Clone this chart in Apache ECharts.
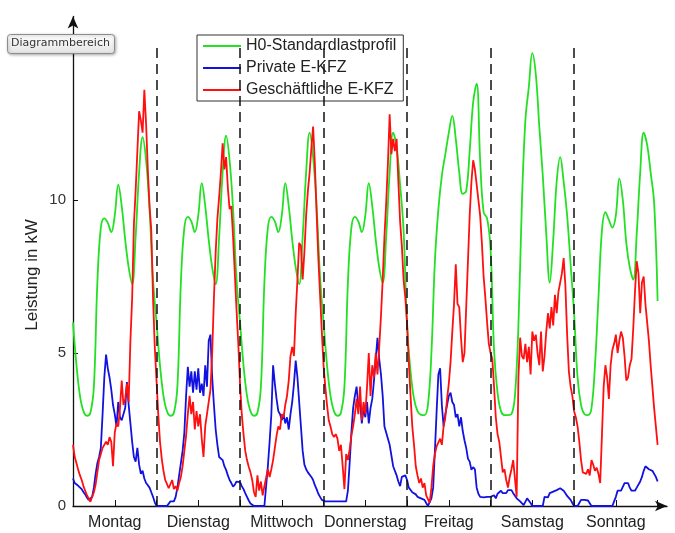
<!DOCTYPE html>
<html lang="de">
<head>
<meta charset="utf-8">
<title>Lastprofile E-KFZ</title>
<script src="https://cdn.jsdelivr.net/npm/echarts@6.0.0/dist/echarts.min.js"></script>
<style>
	html, body { margin: 0; padding: 0; background: #fff; }
	#chart { width: 675px; height: 533px; }
</style>
</head>
<body>
<div id="chart"></div>
<script>
// Wochentage, Label jeweils in der Tagesmitte (12 h, 36 h, ...)
const tage = ['Montag', 'Dienstag', 'Mittwoch', 'Donnerstag', 'Freitag', 'Samstag', 'Sonntag'];
const yTicks = [0, 5, 10];

// H0-Standardlastprofil, stündlich (kW), eine Zeile je Tag
const h0Profil = [
	[6.0, 4.6, 3.6, 3.1, 2.95, 3.05, 3.9, 7.3, 9.1, 9.4, 9.25, 8.95, 9.5, 10.5, 9.8, 8.7, 7.8, 7.25, 8.8, 10.9, 12.05, 11.3, 9.7, 7.4],
	[6.0, 4.6, 3.6, 3.1, 2.95, 3.05, 3.9, 7.3, 9.1, 9.45, 9.3, 8.95, 9.5, 10.55, 9.8, 8.7, 7.8, 7.25, 8.8, 10.9, 12.1, 11.3, 9.7, 7.4],
	[6.0, 4.6, 3.6, 3.1, 2.95, 3.05, 3.9, 7.3, 9.1, 9.45, 9.3, 8.95, 9.5, 10.55, 9.8, 8.7, 7.8, 7.25, 8.8, 10.9, 12.2, 11.4, 9.8, 7.5],
	[6.0, 4.6, 3.6, 3.1, 2.95, 3.05, 3.9, 7.3, 9.1, 9.45, 9.3, 8.95, 9.5, 10.55, 9.8, 8.7, 7.8, 7.3, 8.8, 10.9, 12.2, 11.7, 10.5, 9.0],
	[5.9, 4.4, 3.5, 3.1, 2.98, 2.97, 3.3, 5.0, 8.0, 9.7, 10.8, 11.5, 12.2, 12.75, 12.0, 10.9, 10.2, 10.3, 11.6, 13.2, 13.8, 11.3, 9.6, 9.4],
	[8.4, 5.1, 3.7, 3.1, 2.97, 2.97, 3.0, 3.6, 5.9, 9.9, 12.6, 13.7, 14.8, 14.1, 12.4, 10.8, 8.9, 7.3, 8.7, 10.6, 11.4, 10.6, 9.5, 7.9],
	[6.3, 4.2, 3.3, 3.0, 2.97, 3.2, 4.6, 6.8, 9.0, 9.6, 9.35, 9.1, 9.5, 10.7, 10.0, 8.6, 7.8, 7.4, 8.9, 10.9, 12.2, 11.8, 10.9, 9.9, 6.7],
];

// Private E-KFZ, halbstündlich (kW)
const privatKfz = [
	[0.9, 0.75, 0.69, 0.66, 0.62, 0.55, 0.46, 0.38, 0.28, 0.2, 0.15, 0.3, 0.6, 1.05, 1.4, 1.6, 1.9, 3.0, 4.2, 4.95, 4.5, 4.2, 3.8, 3.3, 3.0, 2.6, 3.4, 2.9, 2.8, 2.85, 3.2, 4.05, 3.3, 2.7, 2.1, 1.6, 1.45, 1.9, 1.35, 1.05, 1.15, 0.9, 0.75, 0.68, 0.6, 0.45, 0.3, 0.12],
	[0, 0, 0, 0, 0, 0, 0, 0, 0.15, 0.15, 0.15, 0.3, 0.6, 1.0, 1.4, 1.8, 2.4, 3.6, 4.55, 3.9, 4.4, 3.7, 4.4, 3.8, 4.5, 3.7, 4.0, 3.6, 4.6, 3.9, 5.4, 5.6, 4.2, 3.3, 2.5, 2.0, 1.6, 1.55, 1.5, 1.3, 1.18, 1.0, 0.85, 0.75, 0.63, 0.7, 0.8, 0.78],
	[0.78, 0.65, 0.55, 0.42, 0.3, 0.18, 0.08, 0.04, 0, 0, 0, 0, 0, 0, 0, 0, 1.3, 2.1, 3.0, 4.6, 4.0, 3.5, 3.1, 3.0, 2.8, 3.0, 2.7, 2.9, 2.5, 3.0, 3.4, 4.0, 4.75, 4.2, 3.4, 2.6, 1.8, 1.35, 1.2, 1.1, 1.05, 0.95, 0.85, 0.68, 0.55, 0.4, 0.3, 0.2],
	[0.15, 0.15, 0.15, 0.15, 0.15, 0.15, 0.15, 0.15, 0.15, 0.15, 0.15, 0.15, 0.15, 0.15, 0.5, 1.4, 2.4, 3.2, 3.6, 3.9, 3.25, 3.4, 2.7, 3.2, 2.9, 3.4, 2.7, 3.2, 3.5, 4.1, 4.8, 5.5, 4.8, 4.3, 3.6, 2.6, 2.4, 2.2, 2.0, 1.65, 1.3, 1.25, 1.0, 0.8, 0.65, 0.95, 0.95, 1.0],
	[0.85, 0.6, 0.55, 0.45, 0.5, 0.38, 0.3, 0.28, 0.25, 0.22, 0.2, 0.1, 0, 0, 0.25, 0.6, 1.8, 3.1, 4.3, 4.5, 3.3, 2.6, 3.0, 3.3, 3.6, 3.7, 3.4, 3.3, 2.9, 3.0, 2.6, 2.9, 2.45, 2.15, 1.9, 1.55, 1.45, 1.18, 1.27, 1.2, 0.6, 0.4, 0.3, 0.25, 0.28, 0.25, 0.3, 0.35],
	[0.3, 0.35, 0.35, 0.25, 0.4, 0.42, 0.5, 0.42, 0.47, 0.42, 0.52, 0.54, 0.52, 0.42, 0.36, 0.25, 0.2, 0.15, 0.2, 0.03, 0, 0.25, 0.3, 0.1, 0, 0, 0, 0, 0, 0, 0, 0.3, 0.36, 0.28, 0.42, 0.36, 0.47, 0.52, 0.52, 0.57, 0.58, 0.58, 0.5, 0.42, 0.33, 0.28, 0.2, 0.1],
	[0, 0, 0, 0.1, 0.2, 0.2, 0.2, 0.2, 0.18, 0.12, 0, 0, 0, 0, 0, 0, 0, 0, 0, 0, 0, 0, 0, 0.15, 0.3, 0.5, 0.55, 0.5, 0.55, 0.75, 0.7, 0.75, 0.6, 0.5, 0.45, 0.5, 0.6, 0.65, 0.8, 0.95, 1.15, 1.3, 1.32, 1.2, 1.2, 1.15, 1.1, 0.95, 0.8],
];

// Geschäftliche E-KFZ, halbstündlich (kW)
const geschaeftKfz = [
	[2.0, 1.6, 1.4, 1.18, 1.0, 0.85, 0.65, 0.5, 0.35, 0.25, 0.14, 0.3, 0.45, 0.7, 1.1, 1.5, 1.7, 1.9, 1.85, 2.1, 2.0, 2.25, 2.1, 1.3, 2.4, 2.7, 2.6, 3.2, 4.1, 3.3, 3.5, 4.0, 3.4, 5.4, 6.8, 9.2, 10.3, 11.6, 12.9, 12.6, 12.2, 13.6, 12.5, 11.0, 9.8, 9.0, 6.8, 5.2],
	[4.1, 3.0, 2.1, 1.55, 1.15, 0.85, 0.72, 0.58, 0.6, 0.85, 0.55, 0.65, 0.5, 0.75, 0.95, 1.3, 1.8, 2.3, 3.0, 3.6, 3.0, 3.4, 2.5, 3.1, 2.6, 3.0, 2.2, 1.6, 2.6, 3.0, 3.4, 3.8, 5.0, 6.8, 8.3, 9.4, 10.1, 10.9, 11.85, 11.0, 11.4, 10.4, 9.7, 9.8, 8.8, 7.6, 6.4, 5.3],
	[4.0, 3.0, 2.35, 1.8, 1.5, 1.28, 1.1, 0.85, 0.45, 0.3, 1.0, 0.5, 0.8, 0.35, 0.65, 0.6, 1.2, 0.95, 1.2, 1.5, 1.9, 2.3, 2.6, 2.5, 3.0, 2.9, 3.3, 3.6, 4.1, 4.9, 5.2, 4.9, 6.3, 7.4, 8.6, 8.5, 7.4, 8.3, 9.5, 10.3, 10.9, 11.7, 12.4, 11.2, 9.6, 8.1, 6.9, 5.7],
	[4.6, 3.9, 3.3, 2.8, 2.6, 2.35, 2.25, 2.35, 2.2, 1.8, 2.0, 1.3, 0.55, 1.7, 1.5, 1.85, 2.3, 2.6, 3.0, 3.5, 3.0, 3.9, 2.8, 3.4, 3.0, 3.9, 5.0, 3.6, 4.6, 4.2, 5.0, 4.3, 5.2, 6.2, 7.4, 8.8, 9.9, 11.2, 12.8, 11.5, 12.0, 11.6, 12.0, 10.6, 9.3, 8.5, 7.4, 6.8],
	[6.0, 4.7, 3.6, 2.6, 2.0, 1.3, 1.0, 0.75, 0.9, 0.6, 0.75, 0.35, 0.4, 0.1, 0.6, 1.3, 1.7, 1.95, 1.9, 2.2, 2.0, 2.6, 2.9, 3.5, 4.0, 4.7, 5.7, 6.6, 7.9, 6.6, 6.5, 5.5, 4.7, 5.0, 6.5, 8.0, 9.5, 10.6, 11.3, 11.0, 10.5, 10.0, 9.5, 8.6, 7.5, 6.8, 6.0, 5.3],
	[5.0, 4.8, 3.9, 2.9, 2.35, 2.1, 1.6, 1.1, 1.2, 0.85, 0.6, 0.95, 1.2, 1.5, 0.9, 0.3, 4.2, 5.5, 4.9, 4.8, 5.3, 4.7, 5.2, 4.3, 5.7, 5.4, 5.6, 5.0, 4.6, 5.7, 4.4, 4.9, 5.7, 6.3, 5.8, 6.5, 5.9, 6.9, 6.3, 7.0, 7.0, 7.6, 8.1, 7.2, 5.6, 4.4, 3.9, 3.6],
	[3.1, 2.9, 2.6, 2.1, 1.5, 1.1, 1.1, 1.05, 1.2, 1.0, 1.5, 1.35, 1.15, 1.25, 1.05, 0.75, 2.3, 3.9, 4.6, 4.2, 3.5, 4.6, 5.1, 5.3, 5.6, 5.0, 5.4, 5.7, 5.5, 4.9, 4.1, 4.2, 4.6, 4.8, 5.8, 7.0, 8.0, 7.6, 6.3, 7.3, 7.5, 6.6, 6.0, 5.4, 4.6, 3.9, 3.2, 2.6, 2.0],
];

const FONT = '"Liberation Sans", Arial, sans-serif';

// Tageszeilen -> [Stunde, kW]
function toPoints(rows, step) {
	const pts = [];
	rows.forEach((row, d) => {
		row.forEach((v, k) => pts.push([d * 24 + k * step, v]));
	});
	return pts;
}

function dayLines() {
	const lines = [];
	for (let d = 1; d < tage.length; d++) {
		lines.push([{ coord: [d * 24, 0] }, { coord: [d * 24, 15] }]);
	}
	return lines;
}

function lineSeries(name, data, color, extra) {
	return Object.assign({
		name,
		type: 'line',
		data,
		showSymbol: false,
		symbol: 'none',
		color,
		lineStyle: { color, width: 1.8 },
	}, extra || {});
}

const chart = echarts.init(document.getElementById('chart'), null, { renderer: 'canvas' });

chart.setOption({
	animation: false,
	backgroundColor: '#fff',
	textStyle: { fontFamily: FONT },
	grid: {
		left: 73,
		right: 8,
		top: 16.4,
		bottom: 27,
		outerBoundsMode: 'none',
	},
	legend: {
		orient: 'vertical',
		left: 197,
		top: 35,
		padding: [2, 7, 2, 6],
		itemGap: 4,
		itemWidth: 38,
		itemHeight: 2,
		itemTextGap: 7,
		icon: 'rect',
		backgroundColor: '#fff',
		borderColor: '#333',
		borderWidth: 1,
		borderRadius: 0,
		selectedMode: false,
		textStyle: { fontFamily: FONT, fontSize: 16, color: '#222', lineHeight: 18 },
	},
	xAxis: {
		type: 'value',
		min: 0,
		max: 170.7,
		interval: 12,
		splitLine: { show: false },
		axisLine: {
			symbol: ['none', 'arrow'],
			symbolSize: [8, 12],
			lineStyle: { color: '#111', width: 1.3 },
		},
		axisTick: { inside: true, length: 6, lineStyle: { color: '#111', width: 1 } },
		axisLabel: {
			margin: 9,
			fontSize: 16,
			color: '#222',
			fontFamily: FONT,
			showMaxLabel: false,
			formatter: (v) => (v % 24 === 12 ? tage[(v - 12) / 24] || '' : ''),
		},
	},
	yAxis: {
		type: 'value',
		min: 0,
		max: 16,
		interval: 5,
		splitLine: { show: false },
		axisLine: {
			symbol: ['none', 'arrow'],
			symbolSize: [8, 12],
			lineStyle: { color: '#111', width: 1.3 },
		},
		axisTick: { inside: true, length: 5, customValues: yTicks, lineStyle: { color: '#111' } },
		axisLabel: { margin: 7, fontSize: 15, color: '#333', fontFamily: FONT, customValues: yTicks },
	},
	graphic: [
		{
			type: 'rect',
			left: 7,
			top: 34,
			z: 10,
			shape: { width: 107, height: 19, r: 3 },
			style: {
				fill: new echarts.graphic.LinearGradient(0, 0, 0, 1, [
					{ offset: 0, color: '#ffffff' },
					{ offset: 1, color: '#e3e3e3' },
				]),
				stroke: '#8c8c8c',
				lineWidth: 1,
				shadowBlur: 3,
				shadowOffsetX: 1,
				shadowOffsetY: 1,
				shadowColor: 'rgba(0, 0, 0, 0.3)',
			},
		},
		{
			type: 'text',
			x: 60.5,
			y: 43.5,
			z: 11,
			style: {
				text: 'Diagrammbereich',
				font: '11px "DejaVu Sans", sans-serif',
				fill: '#333',
				align: 'center',
				verticalAlign: 'middle',
			},
		},
		{
			type: 'text',
			x: 32,
			y: 275,
			rotation: Math.PI / 2,
			style: {
				text: 'Leistung in kW',
				font: '17px "Liberation Sans", Arial, sans-serif',
				fill: '#222',
				align: 'center',
				verticalAlign: 'middle',
			},
		},
	],
	series: [
		lineSeries('H0-Standardlastprofil', toPoints(h0Profil, 1), '#22e022', { smooth: 0.4 }),
		lineSeries('Private E-KFZ', toPoints(privatKfz, 0.5), '#1212e0'),
		lineSeries('Geschäftliche E-KFZ', toPoints(geschaeftKfz, 0.5), '#ff0f0f', {
			markLine: {
				silent: true,
				symbol: ['none', 'none'],
				label: { show: false },
				lineStyle: { color: '#111', width: 1.5, type: [10, 6] },
				emphasis: { disabled: true },
				data: dayLines(),
			},
		}),
	],
});
</script>
</body>
</html>
